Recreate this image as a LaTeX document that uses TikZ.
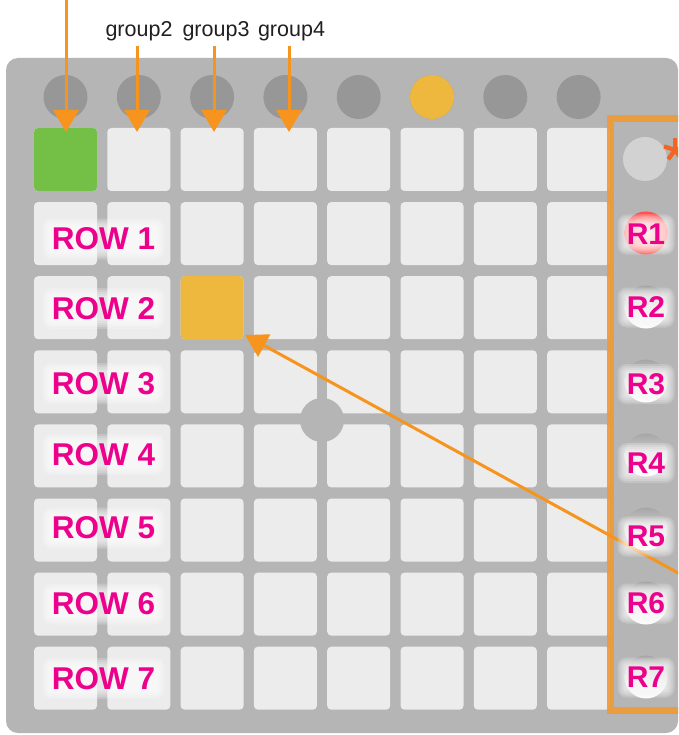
\documentclass[tikz,border=0pt]{standalone}
\usepackage{fontspec}
\setmainfont{Liberation Sans}
\usetikzlibrary{arrows.meta}
\definecolor{bodygray}{HTML}{B4B5B4}
\definecolor{padgray}{HTML}{EBECEB}
\definecolor{knobgray}{HTML}{979797}
\definecolor{padgreen}{HTML}{74BF45}
\definecolor{padyellow}{HTML}{EEB73D}
\definecolor{arroworange}{HTML}{F7941D}
\definecolor{frameorange}{HTML}{EF9A38}
\definecolor{starorange}{HTML}{F26522}
\definecolor{labelpink}{HTML}{EC008C}
\definecolor{grouptext}{HTML}{231F20}
\definecolor{lightknob}{HTML}{D1D2D1}
\tikzset{
  pad/.style={rectangle, minimum width=63pt, minimum height=63pt, inner sep=0pt, rounded corners=4pt, fill=padgray},
  knob/.style={circle, minimum size=44pt, inner sep=0pt, fill=knobgray},
  rknob/.style={circle, minimum size=43pt, inner sep=0pt, top color=gray!70, bottom color=white},
  arr/.style={draw=arroworange, line width=3pt, -{Triangle[length=22pt,width=25pt]}},
  rowfont/.style={font=\fontsize{31.5}{32}\selectfont\bfseries},
  rfont/.style={font=\fontsize{30}{31}\selectfont\bfseries},
  grp/.style={font=\fontsize{21.5}{22}\selectfont, text=grouptext, inner sep=0pt, anchor=base},
  halo/.style={rectangle, fill=white, draw=none, inner sep=0pt, opacity=0.2},
}
% #1 name, #2 position, #3 font style, #4 text, #5 width, #6 height
\newcommand\glowlabel[6]{%
  \foreach \mm in {1,3,5,7,9}{%
    \node[halo, rounded corners=\mm pt, minimum width=#5pt+2*\mm pt, minimum height=#6pt+2*\mm pt] at #2 {};}
  \node[text=labelpink, #3, inner sep=0pt] (#1) at #2 {#4};}
\begin{document}
\begin{tikzpicture}[x=1pt,y=-1pt]
\useasboundingbox (0,0) rectangle (678,735);
\clip (0,0) rectangle (678,735);
\fill[white] (0,0) rectangle (678,735);
% body
\fill[bodygray, rounded corners=12pt] (6,58) rectangle (678,733);
% top knobs
\foreach \i in {0,...,7}{
  \node[knob] (k\i) at (65.5+73.3*\i, 97) {};
}
\node[knob, fill=padyellow] (k5) at (65.5+73.3*5, 97) {};
% pads
\foreach \i in {0,...,7}{
  \foreach \j in {0,...,7}{
    \node[pad] (p-\i-\j) at (65.5+73.3*\i, 159.5+74.1*\j) {};
  }
}
\node[pad, fill=padgreen] (p-0-0) at (65.5, 159.5) {};
\node[pad, fill=padyellow] (p-2-2) at (65.5+73.3*2, 159.5+74.1*2) {};
% center knob
\node[circle, minimum size=44pt, inner sep=0pt, fill=bodygray] (ck) at (322,420) {};
% right column
\node[circle, minimum size=44pt, inner sep=0pt, fill=lightknob] (rs) at (645,159) {};
\node[circle, minimum size=43pt, inner sep=0pt, inner color=white!85!red, outer color=red!70!white] (rk1) at (646,233) {};
\foreach \j in {2,...,7}{
  \node[rknob] (rk\j) at (646, 233+74*\j-74) {};
}
% frame
\draw[frameorange, line width=7pt, opacity=0.92] (610.5,118.5) rectangle (720,710);
% asterisk
\coordinate (star) at (675,150);
\foreach \ang in {270,342,198,54,126}{
  \draw[starorange, line width=4.3pt] (star) -- ++(\ang:11.5);
}
% group labels
\node[grp] (g2) at (139,37) {group2};
\node[grp] (g3) at (216,37) {group3};
\node[grp] (g4) at (291.5,37) {group4};
% arrows
\coordinate (s1) at (66,-5);
\coordinate (t1) at (66,132);
\coordinate (s2) at (137,46);
\coordinate (t2) at (137,132);
\coordinate (s3) at (214,46);
\coordinate (t3) at (214,132);
\coordinate (s4) at (289,46);
\coordinate (t4) at (289,132);
\draw[arr] (s1) -- (t1);
\draw[arr] (s2) -- (t2);
\draw[arr] (s3) -- (t3);
\draw[arr] (s4) -- (t4);
\coordinate (ds) at (700,585);
\coordinate (dt) at (245,335);
\draw[arr] (ds) -- (dt);
% row labels
\glowlabel{row1}{(103.5,239)}{rowfont}{ROW 1}{104}{23}
\glowlabel{row2}{(103.5,308.5)}{rowfont}{ROW 2}{104}{23}
\glowlabel{row3}{(103.5,383.5)}{rowfont}{ROW 3}{104}{23}
\glowlabel{row4}{(103.5,454.5)}{rowfont}{ROW 4}{104}{23}
\glowlabel{row5}{(103.5,528)}{rowfont}{ROW 5}{104}{23}
\glowlabel{row6}{(103.5,604)}{rowfont}{ROW 6}{104}{23}
\glowlabel{row7}{(103.5,678.5)}{rowfont}{ROW 7}{104}{23}
% R labels
\glowlabel{r1}{(646,234.5)}{rfont}{R1}{39}{22}
\glowlabel{r2}{(646,307.5)}{rfont}{R2}{39}{22}
\glowlabel{r3}{(646,384)}{rfont}{R3}{39}{22}
\glowlabel{r4}{(646,463)}{rfont}{R4}{39}{22}
\glowlabel{r5}{(646,536.5)}{rfont}{R5}{39}{22}
\glowlabel{r6}{(646,603.5)}{rfont}{R6}{39}{22}
\glowlabel{r7}{(646,677.5)}{rfont}{R7}{39}{22}
\end{tikzpicture}
\end{document}
